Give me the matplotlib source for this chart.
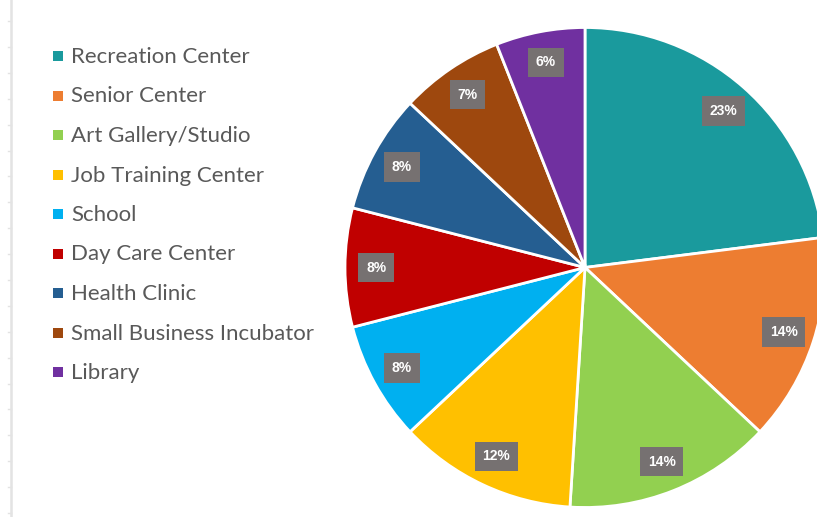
import matplotlib
matplotlib.use("Agg")
import matplotlib.pyplot as plt
from matplotlib.lines import Line2D
from matplotlib.patches import Rectangle

categories = ["Recreation Center", "Senior Center", "Art Gallery/Studio",
              "Job Training Center", "School", "Day Care Center",
              "Health Clinic", "Small Business Incubator", "Library"]
values = [23, 14, 14, 12, 8, 8, 8, 7, 6]
colors = ["#1A9A9D", "#ED7D31", "#92D050", "#FFC000", "#00B0F0",
          "#C00000", "#255E91", "#9E480E", "#7030A0"]

W, H = 817, 517
fig = plt.figure(figsize=(W / 100, H / 100), dpi=100)
fig.patch.set_facecolor("white")

# pie axes: center (585, 267), radius 240 px
cx, cy, r = 585, 267.5, 240
ax = fig.add_axes([(cx - r) / W, (H - cy - r) / H, 2 * r / W, 2 * r / H])
wedges, texts, autotexts = ax.pie(
    values, colors=colors, startangle=90, counterclock=False,
    radius=1, autopct=lambda p: f"{p:.0f}%", pctdistance=0.87,
    wedgeprops=dict(edgecolor="white", linewidth=2),
    textprops=dict(color="white", fontsize=10, fontweight="bold",
                   family="Liberation Sans"))
for t in autotexts:
    t.set_bbox(dict(facecolor="#767171", edgecolor="none", pad=5.5))
ax.set_xlim(-1, 1)
ax.set_ylim(-1, 1)
ax.set_aspect("equal")
ax.axis("off")

# left faint border with ticks
fig.add_artist(Line2D([11 / W, 11 / W], [0, 1], color="#E3E3E3", lw=1.8,
                      transform=fig.transFigure))
y = 21
while y < H:
    fig.add_artist(Line2D([8 / W, 11 / W], [1 - y / H, 1 - y / H],
                          color="#E3E3E3", lw=1, transform=fig.transFigure))
    y += 25.9

# legend
y0 = 56
step = 39.5
for i, (c, col) in enumerate(zip(categories, colors)):
    yy = y0 + i * step
    fig.add_artist(Rectangle(((53) / W, 1 - (yy + 5) / H), 10 / W, 10 / H,
                             facecolor=col, edgecolor="none",
                             transform=fig.transFigure))
    fig.text(71 / W, 1 - (yy + 1) / H, c, fontsize=16, color="#595959",
             family="Lato", va="center", ha="left")

fig.savefig("out.png", dpi=100)
